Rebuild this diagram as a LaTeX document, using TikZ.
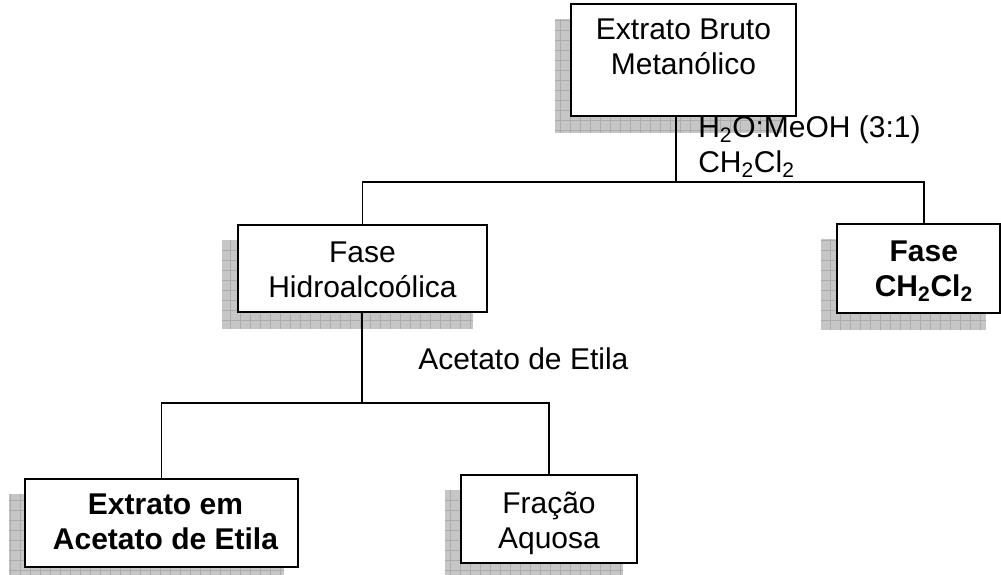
\documentclass[tikz,border=0pt]{standalone}
\usepackage{fontspec}
\setmainfont{Liberation Sans}
\usepackage{tikz}
\usetikzlibrary{positioning}
\usetikzlibrary{calc}
\pgfdeclarelayer{back}
\pgfsetlayers{back,main}

\begin{document}
\begin{tikzpicture}[x=0.75pt, y=-0.75pt,
	frame/.style={draw, line width=1.4pt, fill=white, inner sep=0pt},
	txt/.style={align=center, inner sep=0pt, font=\fontsize{22.5}{26.25}\selectfont},
	txtbold/.style={txt, font=\fontsize{22.5}{26.25}\selectfont\bfseries},
	link/.style={line width=1.1pt},
	shade/.style={fill=gray!45},
	shadegrid/.style={draw=gray!65, line width=0.3pt}]
	\useasboundingbox (0,0) rectangle (1001,575);
	% caixas
	\node[frame, minimum width=168.75pt, minimum height=84pt] (bruto) at (683.5,60) {};
	\node[frame, minimum width=186.75pt, minimum height=65.25pt] (hidro) at (362.5,268.5) {};
	\node[frame, minimum width=122.25pt, minimum height=66.75pt] (fcl) at (918.5,268.5) {};
	\node[frame, minimum width=204.75pt, minimum height=66pt] (extrato) at (161.5,523) {};
	\node[frame, minimum width=132pt, minimum height=66pt] (fracao) at (549,519) {};
	\node[txt, below=12pt of bruto.north] (brutotxt) {Extrato Bruto\\Metanólico};
	\node[txt, below=13pt of hidro.north] (hidrotxt) {Fase\\Hidroalcoólica};
	\node[txtbold, below=13pt of fcl.north, xshift=4pt] (fcltxt) {Fase\\CH\textsubscript{2}Cl\textsubscript{2}};
	\node[txtbold, below=12pt of extrato.north, xshift=3pt] (extratotxt) {Extrato em\\Acetato de Etila};
	\node[txt, below=13pt of fracao.north] (fracaotxt) {Fração\\Aquosa};
	% sombras
	\begin{pgfonlayer}{back}
	\foreach \b in {bruto,hidro,fcl,extrato,fracao}{
		\coordinate (sa) at ([xshift=-11.25pt,yshift=-12pt]\b.south west);
		\coordinate (sb) at ([xshift=-11.25pt,yshift=-12pt]\b.north east);
		\fill[shade] (sa) rectangle (sb);
		\draw[shadegrid] (sa) grid[step=7.5pt] (sb);
	}
	\end{pgfonlayer}
	% ligacoes
	\coordinate (j1) at (676,182);
	\coordinate (j2) at (362,403);
	\draw[link] (bruto.south -| j1) -- (j1);
	\draw[link] (hidro.north) |- (j1) -| ([xshift=4pt]fcl.north);
	\draw[link] (hidro.south -| j2) -- (j2);
	\draw[link] (extrato.north) |- (j2) -| (fracao.north);
	% solventes
	\node[txt, align=left, anchor=north west] (solvente) at (698,115) {H\textsubscript{2}O:MeOH (3:1)\\CH\textsubscript{2}Cl\textsubscript{2}};
	\node[txt, anchor=base west] (acetato) at (418,369) {Acetato de Etila};
\end{tikzpicture}
\end{document}
